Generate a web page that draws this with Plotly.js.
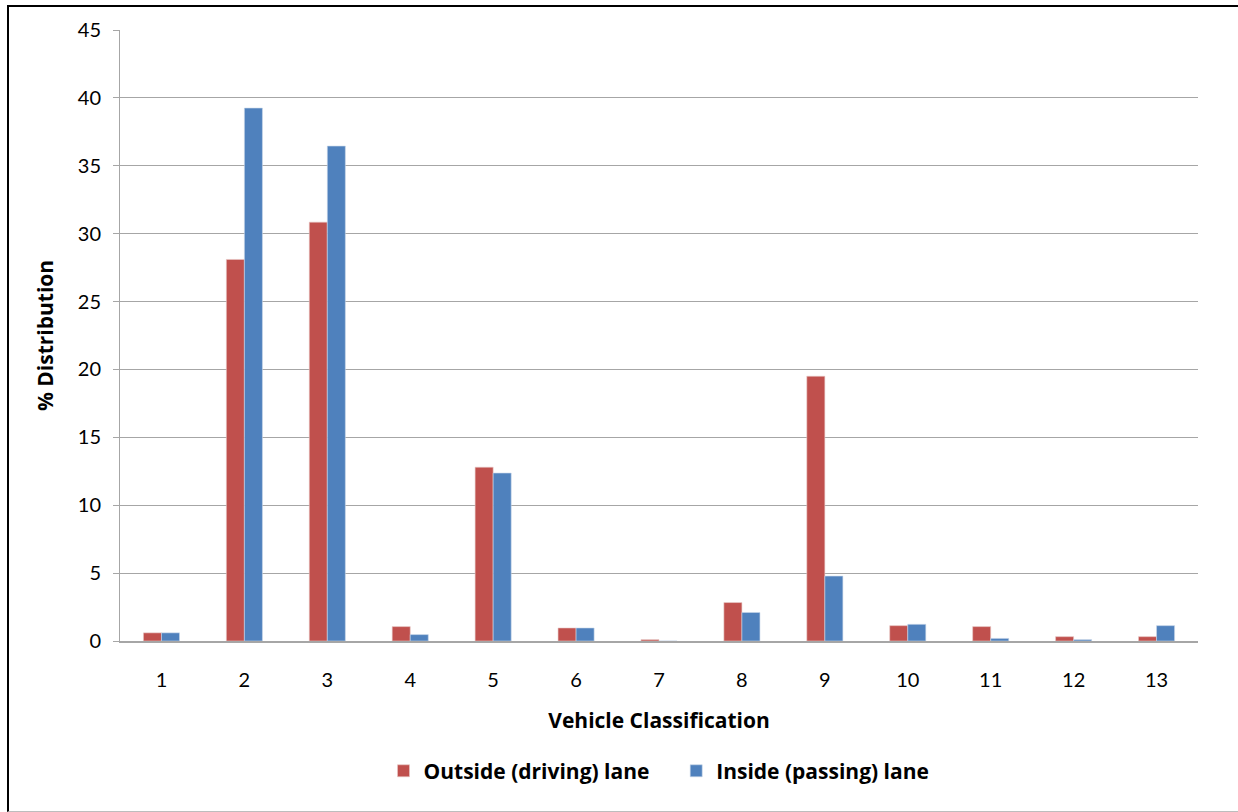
<!DOCTYPE html>
<html>
<head>
<meta charset="utf-8">
<script src="https://cdn.plot.ly/plotly-3.0.1.min.js"></script>
<style>
html,body{margin:0;padding:0;background:#fff;overflow:hidden;}
#chart{width:1238px;height:812px;position:absolute;left:0;top:0;}
#frame{position:absolute;left:7px;top:5px;width:1240px;height:804px;border-left:2px solid #000;border-top:2px solid #000;border-bottom:1px solid #bdbdbd;pointer-events:none;}
</style>
</head>
<body>
<div id="chart"></div>
<div id="frame"></div>
<script>
const categories = ["1","2","3","4","5","6","7","8","9","10","11","12","13"];
const outsideLane = [0.6, 28.1, 30.85, 1.06, 12.8, 0.96, 0.1, 2.83, 19.5, 1.13, 1.06, 0.32, 0.32];
const insideLane  = [0.6, 39.25, 36.45, 0.47, 12.37, 0.96, 0.0, 2.1, 4.78, 1.23, 0.19, 0.1, 1.13];
const seriesNames = ["Outside (driving) lane", "Inside (passing) lane"];
const yTicks = [0,5,10,15,20,25,30,35,40,45];

const fontFam = "Lato, 'Open Sans', sans-serif";
const boldFam = "'Open Sans', Lato, sans-serif";
const traces = [
  {type:'bar', name:'<b>' + seriesNames[0] + '</b>&nbsp;&nbsp;&nbsp;&nbsp;', x:categories, y:outsideLane,
   marker:{color:'#C0504D', line:{color:'#e8c9c8', width:0.6}}},
  {type:'bar', name:'<b>' + seriesNames[1] + '</b>', x:categories, y:insideLane,
   marker:{color:'#4F81BD', line:{color:'#c9d7ea', width:0.6}}}
];
const layout = {
  width:1238, height:812,
  margin:{l:120, r:40, t:30, b:171},
  paper_bgcolor:'#fff', plot_bgcolor:'#fff',
  barmode:'group', bargap:0.565, bargroupgap:0,
  font:{family:fontFam, size:20, color:'#000'},
  xaxis:{type:'category', tickvals:categories, ticktext:categories,
    showline:true, linecolor:'#a6a6a6', linewidth:2, ticks:'', showgrid:false,
    ticklabelstandoff:20, tickfont:{size:20, family:fontFam},
    title:{text:'<b>Vehicle Classification</b>', font:{size:21, family:boldFam}, standoff:23}},
  yaxis:{range:[0,45], tickvals:yTicks, ticktext:yTicks.map(String),
    showline:true, linecolor:'#a6a6a6', linewidth:1,
    showgrid:true, gridcolor:'#a6a6a6', gridwidth:1, zeroline:false,
    ticks:'outside', ticklen:6, tickcolor:'#a6a6a6',
    ticklabelstandoff:8, tickfont:{size:20, family:fontFam},
    title:{text:'<b>% Distribution</b>', font:{size:21, family:boldFam}, standoff:18}},
  legend:{orientation:'h', x:0.5, xanchor:'center', y:-0.213, yanchor:'middle',
    font:{size:21, family:boldFam}, itemwidth:30, traceorder:'normal'},
  showlegend:true
};
Plotly.newPlot('chart', traces, layout, {staticPlot:true, displayModeBar:false});
</script>
</body>
</html>
